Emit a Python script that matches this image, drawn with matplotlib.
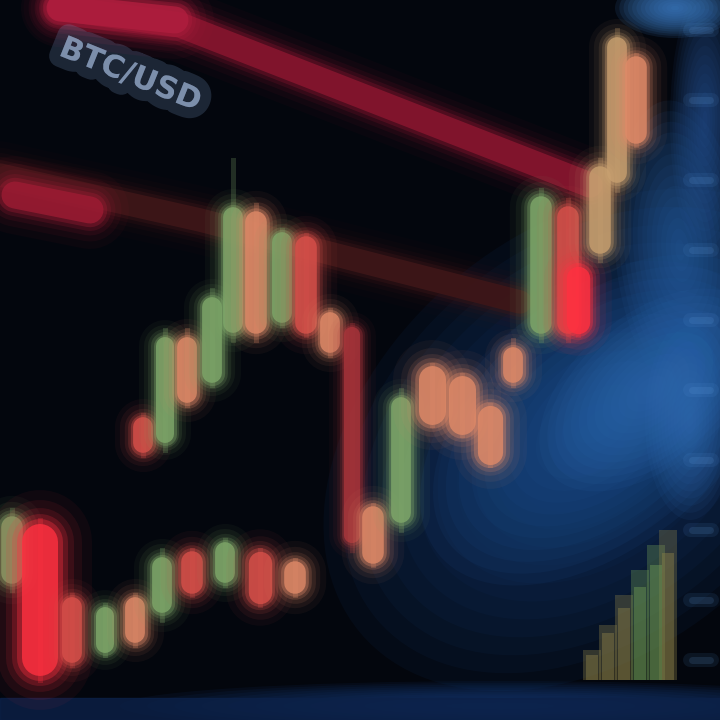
import matplotlib
matplotlib.use("Agg")
import matplotlib.pyplot as plt
from matplotlib.patches import Ellipse
import matplotlib.patheffects as pe

# ---- data (price units: 0 bottom .. 720 top) ----
cand_x     = [12, 40, 72, 105, 135, 162, 192, 225, 260, 295,
              143, 165, 187, 212, 233, 256, 282, 306, 330, 352, 373, 401,
              432, 462, 490, 513, 541, 568, 578, 600, 617, 636]
cand_top   = [200, 190, 120, 110, 120, 160, 165, 175, 165, 155,
              300, 380, 380, 420, 510, 505, 485, 480, 405, 390, 210, 320,
              350, 340, 310, 370, 520, 510, 450, 550, 680, 660]
cand_bot   = [140, 50, 60, 70, 80, 110, 130, 140, 120, 130,
              270, 280, 320, 340, 390, 390, 400, 390, 370, 180, 160, 200,
              300, 290, 260, 340, 390, 390, 390, 470, 540, 580]
cand_high  = [210, 200, 125, 115, 125, 170, 170, 180, 170, 160,
              305, 390, 390, 430, 560, 515, 490, 485, 410, 395, 215, 330,
              355, 345, 315, 380, 530, 520, 455, 560, 690, 665]
cand_low   = [130, 40, 55, 65, 75, 100, 125, 135, 115, 125,
              265, 270, 315, 335, 380, 380, 395, 385, 365, 170, 155, 190,
              295, 285, 255, 335, 380, 380, 385, 460, 530, 575]
cand_kind  = ["g", "R", "r", "g", "o", "g", "r", "g", "r", "o",
              "r", "g", "o", "g", "g", "o", "g", "r", "o", "d", "o", "g",
              "o", "o", "o", "o", "g", "r", "R", "b", "b", "o"]
cand_width = [24, 40, 22, 20, 22, 22, 24, 22, 26, 24,
              22, 20, 22, 22, 22, 24, 22, 24, 22, 18, 24, 22,
              30, 30, 28, 22, 24, 24, 26, 24, 22, 24]

# trend lines (x, price)
trend1_x = [60, 180, 590]
trend1_y = [712, 695, 535]
trend2_x = [0, 200, 520]
trend2_y = [545, 500, 418]

# volume bars bottom right
vol_x = [592, 608, 624, 640, 656, 668]
vol_h = [30, 55, 85, 110, 135, 150]
vol_kind = ["o", "o", "o", "g", "g", "o"]

# right-hand price scale tick positions
scale_y = [690, 620, 540, 470, 400, 330, 260, 190, 120, 60]

colors = {"g": "#7fa86a", "r": "#d8504a", "R": "#ff3040", "o": "#e08a68",
          "d": "#a8343a", "b": "#c8a070"}
vol_colors = {"g": "#6f9a55", "o": "#8a7f48"}

BG = "#03060d"
fig = plt.figure(figsize=(7.2, 7.2), dpi=100, facecolor=BG)
ax = fig.add_axes([0, 0, 1, 1])
ax.set_facecolor(BG)
ax.set_xlim(0, 720)
ax.set_ylim(0, 720)
ax.axis("off")

PT = 72 / 100.0  # points per pixel


def glow_line(xs, ys, color, width_px, alpha=0.85, z=2):
    for k, a in [(2.6, 0.05), (2.1, 0.08), (1.7, 0.12), (1.4, 0.2),
                 (1.15, 0.35), (0.9, alpha)]:
        ax.plot(xs, ys, color=color, lw=width_px * k * PT, alpha=a,
                solid_capstyle="round", zorder=z)


def soft_blob(cx, cy, w, h, ang, col, a, n=14, z=0):
    for i in range(n):
        s = 1.0 - i / n
        ax.add_patch(Ellipse((cx, cy), w * s, h * s, angle=ang, color=col,
                             alpha=a / n * 2.2, lw=0, zorder=z))


# blue glow on the right
soft_blob(590, 280, 600, 420, 40, "#10305e", 0.8)
soft_blob(600, 300, 420, 250, 40, "#1e508e", 0.7)
soft_blob(650, 330, 260, 150, 40, "#2f6cb2", 0.6)
soft_blob(690, 300, 90, 200, 0, "#3470b8", 0.5)
soft_blob(680, 470, 130, 300, 5, "#2a64aa", 0.55)
soft_blob(705, 600, 70, 260, 0, "#2a5aa0", 0.5)
soft_blob(675, 712, 120, 60, 0, "#3c7cc4", 0.8)
soft_blob(500, 14, 760, 50, 0, "#163a78", 0.7)

# bottom strip
ax.axhspan(0, 22, color="#0c2148", alpha=0.8, zorder=0.5)

# right price scale blobs
for py in scale_y:
    ax.plot([690, 712], [py, py], color="#5a9ae0", lw=14 * PT, alpha=0.1,
            solid_capstyle="round", zorder=1)
    ax.plot([692, 710], [py, py], color="#6aa6e8", lw=7 * PT, alpha=0.14,
            solid_capstyle="round", zorder=1)

# trend lines
glow_line(trend1_x, trend1_y, "#86152e", 28, 0.9, z=1.5)
glow_line([60, 175], [712, 700], "#b01e3e", 30, 0.8, z=1.6)
glow_line(trend2_x, trend2_y, "#3e1618", 26, 0.9, z=1.5)
glow_line([15, 90], [525, 510], "#a01c34", 30, 0.75, z=1.6)

# volume bars
vcols = [vol_colors[k] for k in vol_kind]
ax.bar(vol_x, vol_h, bottom=40, width=18, color=vcols, alpha=0.35,
       zorder=2)
ax.bar(vol_x, [h * 0.85 for h in vol_h], bottom=40, width=12,
       color=vcols, alpha=0.45, zorder=2)

# candles
for x, t, b, hi, lo, k, w in zip(cand_x, cand_top, cand_bot, cand_high,
                                 cand_low, cand_kind, cand_width):
    c = colors[k]
    ax.plot([x, x], [lo, hi], color=c, lw=5 * PT, alpha=0.25, zorder=3)
    glow_line([x, x], [b + w * 0.3, t - w * 0.3], c, w, 0.8, z=3)

# blurred label in upper left
ax.text(130, 645, "BTC/USD", color="#9ab0d0", fontsize=22, rotation=-22,
        ha="center", va="center", alpha=0.45, zorder=4,
        fontweight="bold",
        path_effects=[pe.withStroke(linewidth=16, foreground="#6a86b0",
                                    alpha=0.25),
                      pe.Normal()])

fig.savefig("out.png", dpi=100, facecolor=fig.get_facecolor())
